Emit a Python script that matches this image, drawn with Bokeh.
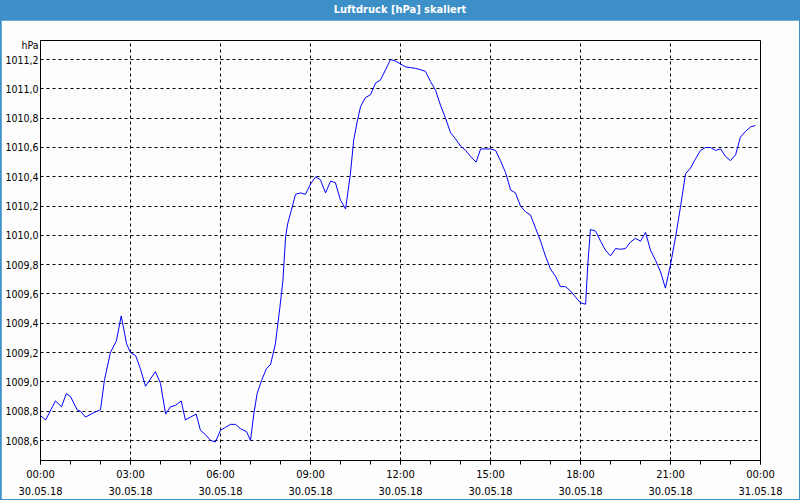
from bokeh.plotting import figure
from bokeh.models import FixedTicker, CustomJSTickFormatter, Div, Range1d, LinearAxis
from bokeh.layouts import column
from bokeh.embed import file_html
from bokeh.resources import INLINE

# ---- data ----
hours = [0.0, 0.17, 0.5, 0.7, 0.86, 1.0, 1.22, 1.33, 1.5, 1.78, 2.0, 2.13, 2.33, 2.53, 2.69, 2.87,
         3.0, 3.17, 3.33, 3.5, 3.83, 4.0, 4.17, 4.33, 4.5, 4.69, 4.83, 5.0, 5.19, 5.33, 5.5, 5.67,
         5.83, 6.0, 6.17, 6.33, 6.5, 6.67, 6.87, 7.0, 7.11, 7.22, 7.37, 7.53, 7.67, 7.83, 7.98,
         8.08, 8.17, 8.24, 8.36, 8.5, 8.67, 8.83, 9.0, 9.17, 9.33, 9.5, 9.67, 9.83, 10.0, 10.17,
         10.33, 10.44, 10.56, 10.67, 10.83, 11.0, 11.17, 11.33, 11.5, 11.67, 11.83, 12.0, 12.17,
         12.33, 12.5, 12.67, 12.83, 13.0, 13.17, 13.33, 13.5, 13.67, 13.83, 14.0, 14.17, 14.33,
         14.52, 14.67, 14.83, 15.0, 15.17, 15.33, 15.5, 15.67, 15.83, 16.0, 16.17, 16.33, 16.5,
         16.67, 16.83, 17.0, 17.17, 17.33, 17.5, 17.67, 17.83, 18.0, 18.17, 18.24, 18.33, 18.5,
         18.67, 18.83, 19.0, 19.17, 19.33, 19.5, 19.67, 19.83, 20.0, 20.17, 20.33, 20.5, 20.67,
         20.83, 21.0, 21.17, 21.33, 21.5, 21.67, 21.83, 22.0, 22.17, 22.33, 22.5, 22.67, 22.83,
         23.0, 23.17, 23.33, 23.5, 23.67, 23.83]
pressure = [1008.77, 1008.74, 1008.87, 1008.83, 1008.92, 1008.90, 1008.81, 1008.80, 1008.76,
            1008.79, 1008.81, 1009.01, 1009.20, 1009.28, 1009.45, 1009.26,
            1009.20, 1009.18, 1009.09, 1008.97, 1009.07, 1008.99, 1008.78, 1008.83, 1008.84,
            1008.87, 1008.74, 1008.76, 1008.78, 1008.67, 1008.64, 1008.60,
            1008.59, 1008.67, 1008.69, 1008.71, 1008.71, 1008.68, 1008.66, 1008.60, 1008.78,
            1008.92, 1009.01, 1009.09, 1009.12, 1009.26, 1009.51,
            1009.69, 1009.99, 1010.08, 1010.17, 1010.28, 1010.29, 1010.28, 1010.35, 1010.40,
            1010.38, 1010.29, 1010.37, 1010.36, 1010.24, 1010.18,
            1010.42, 1010.65, 1010.78, 1010.88, 1010.94, 1010.96, 1011.04, 1011.06, 1011.13,
            1011.20, 1011.19, 1011.17, 1011.15,
            1011.145, 1011.14, 1011.13, 1011.12, 1011.05, 1010.99, 1010.89, 1010.80, 1010.70,
            1010.66, 1010.61, 1010.58, 1010.54,
            1010.50, 1010.59, 1010.59, 1010.59, 1010.58, 1010.51, 1010.43, 1010.31, 1010.29,
            1010.20, 1010.16, 1010.14, 1010.05,
            1009.96, 1009.86, 1009.77, 1009.72, 1009.65, 1009.65, 1009.62, 1009.58, 1009.54,
            1009.53, 1009.79, 1010.04, 1010.03,
            1009.96, 1009.90, 1009.86, 1009.91, 1009.905, 1009.91, 1009.955, 1009.98, 1009.96,
            1010.02, 1009.90, 1009.83, 1009.75,
            1009.64, 1009.80, 1009.99, 1010.19, 1010.42, 1010.46, 1010.52, 1010.58, 1010.60,
            1010.60, 1010.58, 1010.59, 1010.54,
            1010.51, 1010.55, 1010.67, 1010.71, 1010.74, 1010.75]
x_ticks = [0, 3, 6, 9, 12, 15, 18, 21, 24]
x_tick_times = ["00:00", "03:00", "06:00", "09:00", "12:00", "15:00", "18:00", "21:00", "00:00"]
x_tick_dates = ["30.05.18", "30.05.18", "30.05.18", "30.05.18", "30.05.18", "30.05.18",
                "30.05.18", "30.05.18", "31.05.18"]
x_minor_ticks = list(range(25))
y_ticks = [1008.6, 1008.8, 1009.0, 1009.2, 1009.4, 1009.6, 1009.8, 1010.0, 1010.2, 1010.4,
           1010.6, 1010.8, 1011.0, 1011.2]
chart_title = "Luftdruck [hPa] skaliert"
unit_label = "hPa"

# ---- layout / style constants ----
UNIT_POS = 1011.30          # where the unit text sits beside the y axis
FONT = "DejaVu Sans Condensed, DejaVu Sans"
BLUE = "#3d8fc7"
BG = "#fcfdfc"

header = Div(text=chart_title, width=800, height=20, margin=0,
             styles={"background-color": BLUE, "color": "white", "font-family": FONT,
                     "font-size": "11px", "font-weight": "bold", "text-align": "center",
                     "line-height": "20px"})

p = figure(width=798, height=479, x_range=Range1d(0, 24), y_range=Range1d(1008.4635, 1011.33),
           output_backend="svg", toolbar_location=None,
           min_border_left=39, min_border_right=39, min_border_top=20, min_border_bottom=39,
           background_fill_color=BG, border_fill_color=BG, margin=(0, 1, 1, 1))

p.line(hours, pressure, line_color="#0000ff", line_width=1)

p.outline_line_color = "black"
p.outline_line_width = 1

# second row of x labels (dates)
date_axis = LinearAxis()
p.add_layout(date_axis, "below")

xt = FixedTicker(ticks=x_ticks, minor_ticks=x_minor_ticks)
p.xaxis[0].ticker = xt
date_axis.ticker = FixedTicker(ticks=x_ticks, minor_ticks=[])
p.yaxis.ticker = FixedTicker(ticks=y_ticks + [UNIT_POS], minor_ticks=[])
p.xgrid.ticker = FixedTicker(ticks=x_ticks, minor_ticks=[])
p.ygrid.ticker = FixedTicker(ticks=y_ticks, minor_ticks=[])

p.xaxis[0].formatter = CustomJSTickFormatter(
    args=dict(lbls=x_tick_times, tvals=x_ticks),
    code="const i = tvals.indexOf(tick); return i >= 0 ? lbls[i] : '';")
date_axis.formatter = CustomJSTickFormatter(
    args=dict(lbls=x_tick_dates, tvals=x_ticks),
    code="const i = tvals.indexOf(tick); return i >= 0 ? lbls[i] : '';")
p.yaxis.formatter = CustomJSTickFormatter(
    args=dict(unit=unit_label, upos=UNIT_POS),
    code="if (Math.abs(tick - upos) < 1e-6) { return unit; } return tick.toFixed(1).replace('.', ',');")

for ax in (p.xaxis[0], date_axis, p.yaxis[0]):
    ax.axis_line_color = "black"
    ax.major_label_text_font = FONT
    ax.major_label_text_font_size = "11px"
    ax.major_label_text_color = "black"
    ax.major_tick_in = 0
    ax.minor_tick_in = 0
    ax.major_tick_line_color = "black"
    ax.minor_tick_line_color = "black"

p.xaxis[0].major_tick_out = 4
p.xaxis[0].minor_tick_out = 4
p.xaxis[0].major_label_standoff = 3

date_axis.axis_line_color = None
date_axis.major_tick_line_color = None
date_axis.minor_tick_line_color = None
date_axis.major_tick_out = 0
date_axis.minor_tick_out = 0
date_axis.major_label_standoff = 3

p.yaxis.major_tick_out = 0
p.yaxis.minor_tick_out = 0
p.yaxis.major_label_standoff = 2
p.yaxis.major_label_text_font_size = "10.5px"

for g in (p.xgrid[0], p.ygrid[0]):
    g.grid_line_color = "black"
    g.grid_line_dash = "3 3"
    g.grid_line_width = 1

layout = column(header, p, spacing=0, styles={"background-color": BLUE})

open("out.html", "w").write(file_html(layout, INLINE))
